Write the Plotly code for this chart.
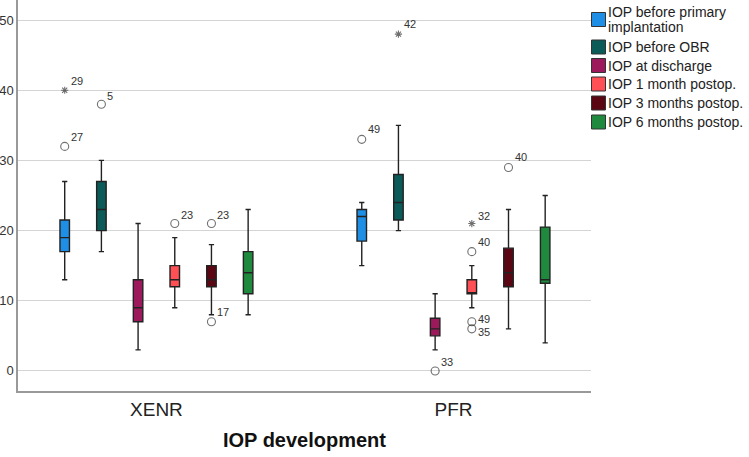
import plotly.graph_objects as go

groups = ["XENR", "PFR"]
series = ["IOP before primary implantation", "IOP before OBR", "IOP at discharge",
          "IOP 1 month postop.", "IOP 3 months postop.", "IOP 6 months postop."]
legend_lines = [["IOP before primary", "implantation"], ["IOP before OBR"], ["IOP at discharge"],
                ["IOP 1 month postop."], ["IOP 3 months postop."], ["IOP 6 months postop."]]
colors = ["#1f8fe6", "#0b5b58", "#9c1a5b", "#ff5056", "#5a0613", "#1f8a3e"]

# per series: [XENR, PFR]
lowerfence = [[13, 15], [17, 20], [3, 3], [9, 9], [8, 6], [8, 4]]
q1 = [[17, 18.5], [20, 21.5], [7, 5], [12, 11], [12, 12], [11, 12.5]]
median = [[19, 22], [23, 24], [9, 6], [13, 11], [13, 14], [14, 13]]
q3 = [[21.5, 23], [27, 28], [13, 7.5], [15, 13], [15, 17.5], [17, 20.5]]
upperfence = [[27, 24], [30, 35], [21, 11], [19, 15], [18, 23], [23, 25]]

out_series = [0, 0, 1, 3, 4, 4, 0, 1, 2, 3, 3, 3, 3, 4]
out_group = [0, 0, 0, 0, 0, 0, 1, 1, 1, 1, 1, 1, 1, 1]
out_value = [32, 40, 38, 21, 21, 7, 33, 48, 0, 21, 17, 7, 6, 29]
out_label = ["27", "29", "5", "23", "23", "17", "49", "42", "33", "32", "40", "49", "35", "40"]
out_kind = ["o", "*", "o", "o", "o", "o", "o", "*", "o", "*", "o", "o", "o", "o"]
# label lift in pixels (up is positive)
out_lift = [9, 9, 8, 9, 9, 10, 10, 10, 9, 8, 10, 3, -3, 10]

W, H = 749, 457
ML, MR, MT, MB = 18, 158, 0, 66
PW, PH = W - ML - MR, H - MT - MB

slot = 0.1235
box_w = 0.032

def xpos(s, g):
    return g + (s - 2.5) * slot

fig = go.Figure()
for s, name in enumerate(series):
    fig.add_trace(go.Box(
        name=name,
        x=[xpos(s, g) for g in range(len(groups))],
        q1=q1[s], median=median[s], q3=q3[s],
        lowerfence=lowerfence[s], upperfence=upperfence[s],
        fillcolor=colors[s],
        line=dict(color="#222222", width=1.4),
        width=box_w,
        whiskerwidth=0.55,
        boxpoints=False,
        hoverinfo="skip",
        showlegend=False,
    ))

out_x = [xpos(s, g) for s, g in zip(out_series, out_group)]
fig.add_trace(go.Scatter(
    x=out_x,
    y=out_value,
    mode="markers",
    marker=dict(
        symbol=["circle-open" if k == "o" else "asterisk-open" for k in out_kind],
        size=[8 if k == "o" else 6 for k in out_kind],
        color="#333333",
        line=dict(width=1.1, color="#333333"),
    ),
    showlegend=False,
    hoverinfo="skip",
))

for xv, yv, lab, lift in zip(out_x, out_value, out_label, out_lift):
    fig.add_annotation(x=xv, y=yv, text=lab, showarrow=False, xanchor="left", yanchor="middle",
                       xshift=5, yshift=lift, borderpad=0,
                       font=dict(family="Arial, Liberation Sans", size=11, color="#333333"))

# hand-built legend (pixel layout converted to paper coordinates)
def px_x(x):
    return (x - ML) / PW

def px_y(y):
    return 1 - (y - MT) / PH

row_y = [12, 47, 65.5, 84, 103, 122]
line_h = 15
for s, lines in enumerate(legend_lines):
    y0 = row_y[s]
    yc = y0 + (len(lines) - 1) * line_h / 2
    fig.add_shape(type="rect", xref="paper", yref="paper",
                  x0=px_x(591.5), x1=px_x(605.5), y0=px_y(yc - 7), y1=px_y(yc + 7),
                  fillcolor=colors[s], line=dict(color="#333333", width=1))
    for j, t in enumerate(lines):
        fig.add_annotation(xref="paper", yref="paper", x=px_x(607), y=px_y(y0 + j * line_h),
                           text=t, showarrow=False, xanchor="left", yanchor="middle", borderpad=0,
                           font=dict(family="Arial, Liberation Sans", size=14, color="#222222"))

fig.update_layout(
    width=W, height=H,
    margin=dict(l=ML, r=MR, t=MT, b=MB),
    paper_bgcolor="white", plot_bgcolor="white",
    font=dict(family="Arial, Liberation Sans", color="#222222"),
    showlegend=False,
    xaxis=dict(
        range=[-0.466, 1.463],
        tickvals=[0, 1], ticktext=groups,
        tickfont=dict(size=19, color="#222222"),
        showgrid=False, zeroline=False,
        showline=True, linecolor="#999999", linewidth=1.5,
        ticks="", ticklen=0,
        title=dict(text="<b>IOP development</b>", font=dict(size=20, color="#111111"), standoff=14),
        automargin=False,
    ),
    yaxis=dict(
        range=[-2.86, 52.86],
        tickvals=[0, 10, 20, 30, 40, 50],
        tickfont=dict(size=13, color="#333333"),
        showgrid=True, gridcolor="#d4d4d4", gridwidth=1.3,
        zeroline=False,
        showline=True, linecolor="#999999", linewidth=1.5,
        ticks="", automargin=False,
    ),
)

fig.write_html("out.html", config={"displayModeBar": False},
               post_script="document.body.style.margin='0px';")
